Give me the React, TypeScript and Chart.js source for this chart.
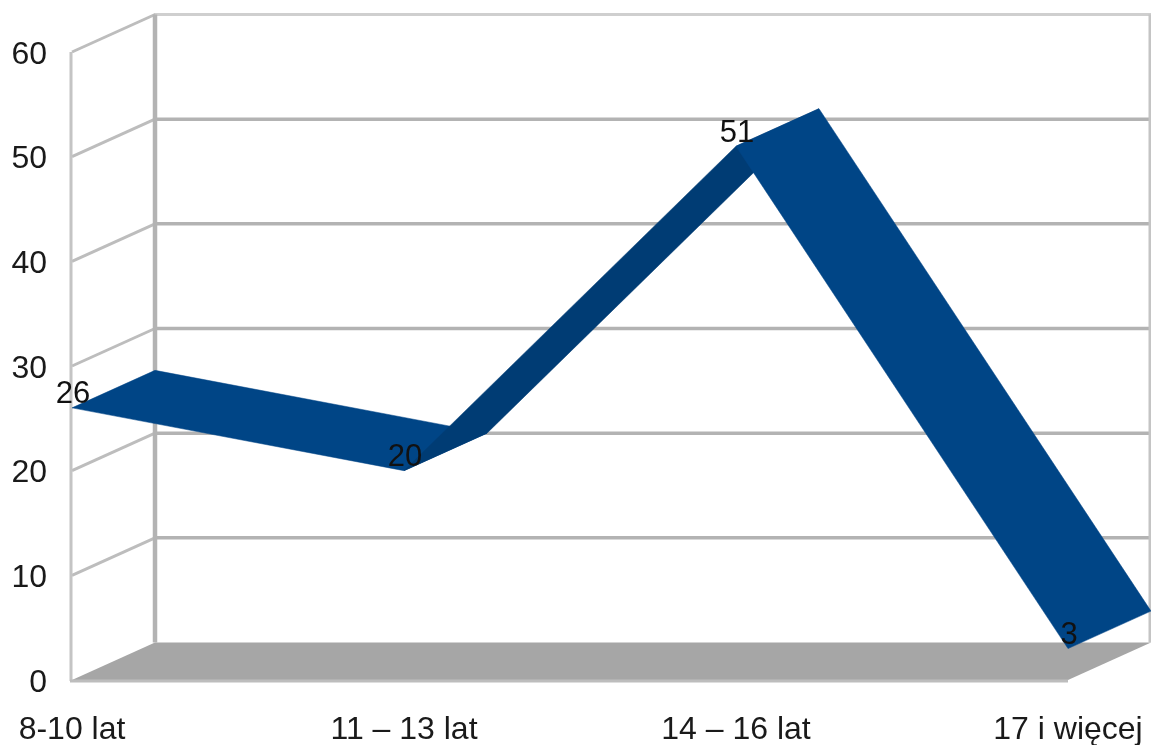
import React, { useEffect, useRef } from "react";
import { Chart, registerables } from "chart.js";

Chart.register(...registerables);

const categories = ["8-10 lat", "11 – 13 lat", "14 – 16 lat", "17 i więcej"];
const values = [26, 20, 51, 3];
const gridValues = [0, 10, 20, 30, 40, 50, 60];

const DX = 83;
const DY = -37.5;
const FONT = "'Liberation Sans', Arial, sans-serif";

const depthPlugin = {
  id: "depth",
  beforeDatasetsDraw(chart: any) {
    const { ctx, scales } = chart;
    const x = scales.x;
    const y = scales.y;
    const left = x.left;
    const right = x.right;
    const bottom = y.getPixelForValue(0);
    ctx.save();
    // floor
    ctx.fillStyle = "#a6a6a6";
    ctx.beginPath();
    ctx.moveTo(left, bottom);
    ctx.lineTo(left + DX, bottom + DY);
    ctx.lineTo(right + DX, bottom + DY);
    ctx.lineTo(right, bottom);
    ctx.closePath();
    ctx.fill();
    // grid on the back wall and the side wall
    ctx.lineCap = "butt";
    gridValues.forEach((v) => {
      const py = y.getPixelForValue(v);
      ctx.strokeStyle = v === 60 ? "#cfcfcf" : "#b3b3b3";
      ctx.lineWidth = v === 60 ? 3 : 3.5;
      if (v > 0) {
        ctx.beginPath();
        ctx.moveTo(left + DX - 1, py + DY);
        ctx.lineTo(right + DX, py + DY);
        ctx.stroke();
      }
      ctx.strokeStyle = "#bdbdbd";
      ctx.lineWidth = 3;
      if (v > 0) {
        ctx.beginPath();
        ctx.moveTo(left, py);
        ctx.lineTo(left + DX, py + DY);
        ctx.stroke();
      }
    });
    const top = y.getPixelForValue(60);
    // upright edges
    ctx.strokeStyle = "#b3b3b3";
    ctx.lineWidth = 4.5;
    ctx.beginPath();
    ctx.moveTo(left + DX, top + DY);
    ctx.lineTo(left + DX, bottom + DY);
    ctx.stroke();
    ctx.strokeStyle = "#c4c4c4";
    ctx.lineWidth = 3;
    ctx.beginPath();
    ctx.moveTo(left - 1, top);
    ctx.lineTo(left - 1, bottom + 1);
    ctx.stroke();
    ctx.beginPath();
    ctx.moveTo(right + DX - 1, top + DY);
    ctx.lineTo(right + DX - 1, bottom + DY);
    ctx.stroke();
    ctx.strokeStyle = "#bdbdbd";
    ctx.lineWidth = 3;
    ctx.beginPath();
    ctx.moveTo(left - 2, bottom + 1);
    ctx.lineTo(right, bottom + 1);
    ctx.stroke();
    ctx.restore();
  },
  afterDatasetsDraw(chart: any) {
    const { ctx } = chart;
    const pts = chart.getDatasetMeta(0).data;
    ctx.save();
    const shades = ["#004586", "#003c74", "#004586"];
    for (let i = 0; i < pts.length - 1; i++) {
      const a = pts[i];
      const b = pts[i + 1];
      ctx.fillStyle = shades[i];
      ctx.strokeStyle = shades[i];
      ctx.lineWidth = 0.5;
      ctx.beginPath();
      ctx.moveTo(a.x, a.y);
      ctx.lineTo(b.x, b.y);
      ctx.lineTo(b.x + DX, b.y + DY);
      ctx.lineTo(a.x + DX, a.y + DY);
      ctx.closePath();
      ctx.fill();
      ctx.stroke();
    }
    ctx.fillStyle = "#111111";
    ctx.font = `31px ${FONT}`;
    ctx.textAlign = "center";
    ctx.textBaseline = "middle";
    pts.forEach((p: any, i: number) => {
      ctx.fillText(String(values[i]), p.x + 1, p.y - 13);
    });
    ctx.restore();
  },
};

export default function App() {
  const ref = useRef<HTMLCanvasElement | null>(null);

  useEffect(() => {
    document.body.style.margin = "0";
    document.body.style.background = "#ffffff";
    const chart = new Chart(ref.current as HTMLCanvasElement, {
      type: "line",
      data: {
        labels: categories,
        datasets: [
          {
            label: "Wiek",
            data: values,
            showLine: false,
            pointRadius: 0,
            borderColor: "#004586",
            backgroundColor: "#004586",
          },
        ],
      },
      options: {
        animation: false,
        responsive: false,
        devicePixelRatio: 1,
        layout: { padding: { top: 52, right: 83, left: 0, bottom: 0 } },
        plugins: { legend: { display: false }, tooltip: { enabled: false } },
        scales: {
          x: {
            type: "category",
            offset: false,
            grid: { display: false, drawTicks: false },
            border: { display: false },
            afterFit(scale: any) {
              scale.height = 65;
              scale.paddingLeft = 0;
              scale.paddingRight = 0;
            },
            ticks: {
              autoSkip: false,
              maxRotation: 0,
              minRotation: 0,
              padding: 31,
              color: "#1a1a1a",
              font: { family: FONT, size: 32 },
            },
          },
          y: {
            min: 0,
            max: 60,
            grid: { display: false, drawTicks: false },
            border: { display: false },
            afterFit(scale: any) {
              scale.width = 72;
              scale.paddingTop = 0;
              scale.paddingBottom = 0;
            },
            ticks: {
              stepSize: 10,
              padding: 25,
              labelOffset: 3,
              color: "#1a1a1a",
              font: { family: FONT, size: 32 },
            },
          },
        },
      },
      plugins: [depthPlugin],
    } as any);
    return () => chart.destroy();
  }, []);

  return (
    <canvas
      ref={ref}
      width={1151}
      height={745}
      style={{ display: "block", width: 1151, height: 745, filter: "blur(0.5px)" }}
    />
  );
}
